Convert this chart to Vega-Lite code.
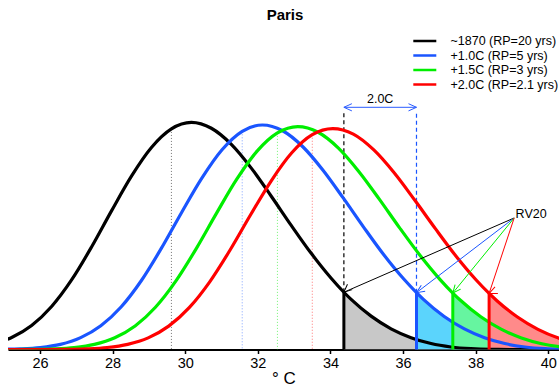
{
  "$schema": "https://vega.github.io/schema/vega-lite/v6.json",
  "width": 551,
  "height": 317,
  "autosize": {"type": "none"},
  "padding": {"left": 8, "top": 32.5, "right": 0, "bottom": 37.5},
  "background": "white",
  "title": {"text": "Paris", "fontSize": 15, "fontWeight": "bold", "font": "Liberation Sans", "anchor": "middle", "offset": 10, "color": "black", "dx": 1.5},
  "config": {"view": {"stroke": null}, "font": "Liberation Sans"},
  "datasets": {
    "curves": [
      {"s": "~1870 (RP=20 yrs)", "x": 24.67, "y": 0.0040},
      {"s": "~1870 (RP=20 yrs)", "x": 25.22, "y": 0.0091},
      {"s": "~1870 (RP=20 yrs)", "x": 25.77, "y": 0.0182},
      {"s": "~1870 (RP=20 yrs)", "x": 26.32, "y": 0.0326},
      {"s": "~1870 (RP=20 yrs)", "x": 26.87, "y": 0.0527},
      {"s": "~1870 (RP=20 yrs)", "x": 27.42, "y": 0.0777},
      {"s": "~1870 (RP=20 yrs)", "x": 27.97, "y": 0.1051},
      {"s": "~1870 (RP=20 yrs)", "x": 28.52, "y": 0.1314},
      {"s": "~1870 (RP=20 yrs)", "x": 29.07, "y": 0.1531},
      {"s": "~1870 (RP=20 yrs)", "x": 29.62, "y": 0.1672},
      {"s": "~1870 (RP=20 yrs)", "x": 30.17, "y": 0.1721},
      {"s": "~1870 (RP=20 yrs)", "x": 30.72, "y": 0.1677},
      {"s": "~1870 (RP=20 yrs)", "x": 31.27, "y": 0.1555},
      {"s": "~1870 (RP=20 yrs)", "x": 31.82, "y": 0.1375},
      {"s": "~1870 (RP=20 yrs)", "x": 32.37, "y": 0.1162},
      {"s": "~1870 (RP=20 yrs)", "x": 32.92, "y": 0.0941},
      {"s": "~1870 (RP=20 yrs)", "x": 33.47, "y": 0.0729},
      {"s": "~1870 (RP=20 yrs)", "x": 34.02, "y": 0.0540},
      {"s": "~1870 (RP=20 yrs)", "x": 34.37, "y": 0.0434},
      {"s": "~1870 (RP=20 yrs)", "x": 34.57, "y": 0.0380},
      {"s": "~1870 (RP=20 yrs)", "x": 35.12, "y": 0.0253},
      {"s": "~1870 (RP=20 yrs)", "x": 35.67, "y": 0.0157},
      {"s": "~1870 (RP=20 yrs)", "x": 36.22, "y": 0.0090},
      {"s": "~1870 (RP=20 yrs)", "x": 36.77, "y": 0.0045},
      {"s": "~1870 (RP=20 yrs)", "x": 37.32, "y": 0.0019},
      {"s": "~1870 (RP=20 yrs)", "x": 37.87, "y": 0.0006},
      {"s": "~1870 (RP=20 yrs)", "x": 38.42, "y": 0.0001},
      {"s": "~1870 (RP=20 yrs)", "x": 38.97, "y": 0.0},
      {"s": "~1870 (RP=20 yrs)", "x": 40.5, "y": 0.0},
      {"s": "+1.0C (RP=5 yrs)", "x": 24.895, "y": 0.0001},
      {"s": "+1.0C (RP=5 yrs)", "x": 25.451, "y": 0.0005},
      {"s": "+1.0C (RP=5 yrs)", "x": 26.008, "y": 0.0015},
      {"s": "+1.0C (RP=5 yrs)", "x": 26.564, "y": 0.0039},
      {"s": "+1.0C (RP=5 yrs)", "x": 27.12, "y": 0.0090},
      {"s": "+1.0C (RP=5 yrs)", "x": 27.676, "y": 0.0180},
      {"s": "+1.0C (RP=5 yrs)", "x": 28.233, "y": 0.0322},
      {"s": "+1.0C (RP=5 yrs)", "x": 28.789, "y": 0.0521},
      {"s": "+1.0C (RP=5 yrs)", "x": 29.345, "y": 0.0768},
      {"s": "+1.0C (RP=5 yrs)", "x": 29.901, "y": 0.1039},
      {"s": "+1.0C (RP=5 yrs)", "x": 30.458, "y": 0.1299},
      {"s": "+1.0C (RP=5 yrs)", "x": 31.014, "y": 0.1514},
      {"s": "+1.0C (RP=5 yrs)", "x": 31.57, "y": 0.1654},
      {"s": "+1.0C (RP=5 yrs)", "x": 32.126, "y": 0.1702},
      {"s": "+1.0C (RP=5 yrs)", "x": 32.683, "y": 0.1658},
      {"s": "+1.0C (RP=5 yrs)", "x": 33.239, "y": 0.1537},
      {"s": "+1.0C (RP=5 yrs)", "x": 33.795, "y": 0.1359},
      {"s": "+1.0C (RP=5 yrs)", "x": 34.351, "y": 0.1149},
      {"s": "+1.0C (RP=5 yrs)", "x": 34.908, "y": 0.0930},
      {"s": "+1.0C (RP=5 yrs)", "x": 35.464, "y": 0.0720},
      {"s": "+1.0C (RP=5 yrs)", "x": 36.02, "y": 0.0534},
      {"s": "+1.0C (RP=5 yrs)", "x": 36.37, "y": 0.0431},
      {"s": "+1.0C (RP=5 yrs)", "x": 36.576, "y": 0.0376},
      {"s": "+1.0C (RP=5 yrs)", "x": 37.133, "y": 0.0250},
      {"s": "+1.0C (RP=5 yrs)", "x": 37.689, "y": 0.0156},
      {"s": "+1.0C (RP=5 yrs)", "x": 38.245, "y": 0.0089},
      {"s": "+1.0C (RP=5 yrs)", "x": 38.801, "y": 0.0045},
      {"s": "+1.0C (RP=5 yrs)", "x": 39.358, "y": 0.0019},
      {"s": "+1.0C (RP=5 yrs)", "x": 39.914, "y": 0.0006},
      {"s": "+1.0C (RP=5 yrs)", "x": 40.47, "y": 0.0001},
      {"s": "+1.5C (RP=3 yrs)", "x": 24.70, "y": 0.0},
      {"s": "+1.5C (RP=3 yrs)", "x": 25.26, "y": 0.0},
      {"s": "+1.5C (RP=3 yrs)", "x": 25.82, "y": 0.0001},
      {"s": "+1.5C (RP=3 yrs)", "x": 26.38, "y": 0.0005},
      {"s": "+1.5C (RP=3 yrs)", "x": 26.94, "y": 0.0015},
      {"s": "+1.5C (RP=3 yrs)", "x": 27.50, "y": 0.0039},
      {"s": "+1.5C (RP=3 yrs)", "x": 28.06, "y": 0.0089},
      {"s": "+1.5C (RP=3 yrs)", "x": 28.62, "y": 0.0178},
      {"s": "+1.5C (RP=3 yrs)", "x": 29.18, "y": 0.0320},
      {"s": "+1.5C (RP=3 yrs)", "x": 29.74, "y": 0.0518},
      {"s": "+1.5C (RP=3 yrs)", "x": 30.30, "y": 0.0763},
      {"s": "+1.5C (RP=3 yrs)", "x": 30.86, "y": 0.1032},
      {"s": "+1.5C (RP=3 yrs)", "x": 31.42, "y": 0.1291},
      {"s": "+1.5C (RP=3 yrs)", "x": 31.98, "y": 0.1504},
      {"s": "+1.5C (RP=3 yrs)", "x": 32.54, "y": 0.1642},
      {"s": "+1.5C (RP=3 yrs)", "x": 33.10, "y": 0.1690},
      {"s": "+1.5C (RP=3 yrs)", "x": 33.66, "y": 0.1647},
      {"s": "+1.5C (RP=3 yrs)", "x": 34.22, "y": 0.1527},
      {"s": "+1.5C (RP=3 yrs)", "x": 34.78, "y": 0.1350},
      {"s": "+1.5C (RP=3 yrs)", "x": 35.34, "y": 0.1142},
      {"s": "+1.5C (RP=3 yrs)", "x": 35.90, "y": 0.0924},
      {"s": "+1.5C (RP=3 yrs)", "x": 36.46, "y": 0.0716},
      {"s": "+1.5C (RP=3 yrs)", "x": 37.02, "y": 0.0530},
      {"s": "+1.5C (RP=3 yrs)", "x": 37.37, "y": 0.0428},
      {"s": "+1.5C (RP=3 yrs)", "x": 37.58, "y": 0.0373},
      {"s": "+1.5C (RP=3 yrs)", "x": 38.14, "y": 0.0248},
      {"s": "+1.5C (RP=3 yrs)", "x": 38.70, "y": 0.0154},
      {"s": "+1.5C (RP=3 yrs)", "x": 39.26, "y": 0.0088},
      {"s": "+1.5C (RP=3 yrs)", "x": 39.82, "y": 0.0044},
      {"s": "+1.5C (RP=3 yrs)", "x": 40.38, "y": 0.0019},
      {"s": "+1.5C (RP=3 yrs)", "x": 40.94, "y": 0.0006},
      {"s": "+2.0C (RP=2.1 yrs)", "x": 25.025, "y": 0.0},
      {"s": "+2.0C (RP=2.1 yrs)", "x": 25.59, "y": 0.0},
      {"s": "+2.0C (RP=2.1 yrs)", "x": 26.155, "y": 0.0},
      {"s": "+2.0C (RP=2.1 yrs)", "x": 26.72, "y": 0.0001},
      {"s": "+2.0C (RP=2.1 yrs)", "x": 27.285, "y": 0.0005},
      {"s": "+2.0C (RP=2.1 yrs)", "x": 27.85, "y": 0.0015},
      {"s": "+2.0C (RP=2.1 yrs)", "x": 28.415, "y": 0.0039},
      {"s": "+2.0C (RP=2.1 yrs)", "x": 28.98, "y": 0.0088},
      {"s": "+2.0C (RP=2.1 yrs)", "x": 29.545, "y": 0.0177},
      {"s": "+2.0C (RP=2.1 yrs)", "x": 30.11, "y": 0.0317},
      {"s": "+2.0C (RP=2.1 yrs)", "x": 30.675, "y": 0.0513},
      {"s": "+2.0C (RP=2.1 yrs)", "x": 31.24, "y": 0.0756},
      {"s": "+2.0C (RP=2.1 yrs)", "x": 31.805, "y": 0.1023},
      {"s": "+2.0C (RP=2.1 yrs)", "x": 32.37, "y": 0.1279},
      {"s": "+2.0C (RP=2.1 yrs)", "x": 32.935, "y": 0.1491},
      {"s": "+2.0C (RP=2.1 yrs)", "x": 33.50, "y": 0.1628},
      {"s": "+2.0C (RP=2.1 yrs)", "x": 34.065, "y": 0.1675},
      {"s": "+2.0C (RP=2.1 yrs)", "x": 34.63, "y": 0.1633},
      {"s": "+2.0C (RP=2.1 yrs)", "x": 35.195, "y": 0.1513},
      {"s": "+2.0C (RP=2.1 yrs)", "x": 35.76, "y": 0.1338},
      {"s": "+2.0C (RP=2.1 yrs)", "x": 36.325, "y": 0.1131},
      {"s": "+2.0C (RP=2.1 yrs)", "x": 36.89, "y": 0.0916},
      {"s": "+2.0C (RP=2.1 yrs)", "x": 37.455, "y": 0.0709},
      {"s": "+2.0C (RP=2.1 yrs)", "x": 38.02, "y": 0.0525},
      {"s": "+2.0C (RP=2.1 yrs)", "x": 38.37, "y": 0.0425},
      {"s": "+2.0C (RP=2.1 yrs)", "x": 38.585, "y": 0.0370},
      {"s": "+2.0C (RP=2.1 yrs)", "x": 39.15, "y": 0.0246},
      {"s": "+2.0C (RP=2.1 yrs)", "x": 39.715, "y": 0.0153},
      {"s": "+2.0C (RP=2.1 yrs)", "x": 40.28, "y": 0.0087},
      {"s": "+2.0C (RP=2.1 yrs)", "x": 40.845, "y": 0.0044}
    ],
    "params": [
      {"s": "~1870 (RP=20 yrs)", "mu": 29.62, "fmu": 0.1672, "rv": 34.37, "frv": 0.0434},
      {"s": "+1.0C (RP=5 yrs)", "mu": 31.57, "fmu": 0.1654, "rv": 36.37, "frv": 0.0431},
      {"s": "+1.5C (RP=3 yrs)", "mu": 32.54, "fmu": 0.1642, "rv": 37.37, "frv": 0.0428},
      {"s": "+2.0C (RP=2.1 yrs)", "mu": 33.50, "fmu": 0.1628, "rv": 38.37, "frv": 0.0425}
    ],
    "span": [
      {"end": "L", "x": 34.37},
      {"end": "R", "x": 36.37}
    ]
  },
  "resolve": {"scale": {"angle": "independent"}},
  "layer": [
    {
      "data": {"name": "curves"},
      "transform": [
        {"filter": "(datum.s === '~1870 (RP=20 yrs)' && datum.x >= 34.37) || (datum.s === '+1.0C (RP=5 yrs)' && datum.x >= 36.37) || (datum.s === '+1.5C (RP=3 yrs)' && datum.x >= 37.37) || (datum.s === '+2.0C (RP=2.1 yrs)' && datum.x >= 38.37)"}
      ],
      "mark": {"type": "area", "interpolate": "monotone", "clip": true},
      "encoding": {
        "x": {"field": "x", "type": "quantitative", "scale": {"domain": [25.119, 40.295], "nice": false, "zero": false},
          "axis": {"title": "° C", "values": [26, 28, 30, 32, 34, 36, 38, 40], "grid": false, "domainColor": "black", "domainWidth": 2, "domainCap": "butt", "tickColor": "black", "tickWidth": 1.5, "tickSize": 4, "labelFontSize": 14.5, "labelFont": "Liberation Sans", "labelColor": "black", "labelPadding": 3, "labelFlush": false, "labelOverlap": false, "titleFontSize": 17, "titleFont": "Liberation Sans", "titleFontWeight": "normal", "titleColor": "black", "titleBaseline": "alphabetic", "titleY": 33.5}},
        "y": {"field": "y", "type": "quantitative", "stack": null, "scale": {"domain": [0, 0.2403], "nice": false, "zero": true}, "axis": null},
        "fill": {"field": "s", "type": "nominal", "scale": {"domain": ["+2.0C (RP=2.1 yrs)", "+1.5C (RP=3 yrs)", "+1.0C (RP=5 yrs)", "~1870 (RP=20 yrs)"], "range": ["#ff8a8a", "#66f5a0", "#5bd4fc", "#c8c8c8"]}, "legend": null}
      }
    },
    {
      "data": {"name": "params"},
      "mark": {"type": "rule", "strokeDash": [1, 2], "strokeWidth": 1, "opacity": 0.55},
      "encoding": {
        "x": {"field": "mu", "type": "quantitative"},
        "y": {"field": "fmu", "type": "quantitative", "axis": null},
        "y2": {"datum": 0},
        "stroke": {"field": "s", "type": "nominal", "scale": {"domain": ["+1.0C (RP=5 yrs)", "~1870 (RP=20 yrs)", "+1.5C (RP=3 yrs)", "+2.0C (RP=2.1 yrs)"], "range": ["#1a55ff", "#000000", "#00ee00", "#ff0000"]}, "legend": null}
      }
    },
    {
      "data": {"name": "params"},
      "transform": [{"filter": {"field": "s", "oneOf": ["~1870 (RP=20 yrs)", "+1.0C (RP=5 yrs)"]}}],
      "mark": {"type": "rule", "strokeDash": [4, 3], "strokeWidth": 1.2},
      "encoding": {
        "x": {"field": "rv", "type": "quantitative"},
        "y": {"field": "frv", "type": "quantitative", "axis": null},
        "y2": {"datum": 0.180},
        "stroke": {"field": "s", "type": "nominal", "legend": null}
      }
    },
    {
      "data": {"name": "curves"},
      "mark": {"type": "line", "interpolate": "monotone", "strokeWidth": 3.2, "clip": true},
      "encoding": {
        "x": {"field": "x", "type": "quantitative"},
        "y": {"field": "y", "type": "quantitative", "axis": null},
        "color": {"field": "s", "type": "nominal", "scale": {"domain": ["~1870 (RP=20 yrs)", "+1.0C (RP=5 yrs)", "+1.5C (RP=3 yrs)", "+2.0C (RP=2.1 yrs)"], "range": ["#000000", "#1a55ff", "#00ee00", "#ff0000"]},
          "legend": {"title": null, "orient": "none", "legendX": 410.3, "legendY": 2, "symbolType": "M-2.3,0H2.3", "symbolSize": 100, "symbolStrokeWidth": 2.5, "labelFontSize": 12.5, "labelFont": "Liberation Sans", "labelColor": "black", "labelOffset": 19.2, "rowPadding": 1.5, "padding": 0}}
      }
    },
    {
      "data": {"name": "params"},
      "mark": {"type": "rule", "strokeWidth": 3},
      "encoding": {
        "x": {"field": "rv", "type": "quantitative"},
        "y": {"field": "frv", "type": "quantitative", "axis": null},
        "y2": {"datum": 0},
        "stroke": {"field": "s", "type": "nominal", "legend": null}
      }
    },
    {
      "data": {"name": "params"},
      "mark": {"type": "rule", "strokeWidth": 1},
      "encoding": {
        "x": {"field": "rv", "type": "quantitative"},
        "y": {"field": "frv", "type": "quantitative", "axis": null},
        "x2": {"datum": 39.06},
        "y2": {"datum": 0.0997},
        "stroke": {"field": "s", "type": "nominal", "legend": null}
      }
    },
    {
      "data": {"name": "params"},
      "mark": {"type": "point", "shape": "M-1,-0.45L0,0L-1,0.45", "filled": false, "size": 256, "strokeWidth": 1, "opacity": 1},
      "encoding": {
        "x": {"field": "rv", "type": "quantitative"},
        "y": {"field": "frv", "type": "quantitative", "axis": null},
        "stroke": {"field": "s", "type": "nominal", "legend": null},
        "angle": {"field": "s", "type": "nominal", "scale": {"domain": ["+1.5C (RP=3 yrs)", "~1870 (RP=20 yrs)", "+1.0C (RP=5 yrs)", "+2.0C (RP=2.1 yrs)"], "range": [129.3, 156.4, 142.6, 108.4]}, "legend": null}
      }
    },
    {
      "data": {"name": "span"},
      "mark": {"type": "line", "strokeWidth": 1, "color": "#2a5cff"},
      "encoding": {
        "x": {"field": "x", "type": "quantitative"},
        "y": {"datum": 0.1836, "axis": null}
      }
    },
    {
      "data": {"name": "span"},
      "mark": {"type": "point", "shape": "M-1,-0.45L0,0L-1,0.45", "filled": false, "size": 256, "strokeWidth": 1, "opacity": 1, "color": "#2a5cff"},
      "encoding": {
        "x": {"field": "x", "type": "quantitative"},
        "y": {"datum": 0.1836, "axis": null},
        "angle": {"field": "end", "type": "nominal", "scale": {"domain": ["L", "R"], "range": [180, 0]}, "legend": null}
      }
    },
    {
      "data": {"values": [{}]},
      "mark": {"type": "text", "text": "2.0C", "fontSize": 12.5, "font": "Liberation Sans", "color": "black", "align": "center", "baseline": "middle"},
      "encoding": {
        "x": {"datum": 35.37},
        "y": {"datum": 0.1899, "axis": null}
      }
    },
    {
      "data": {"values": [{}]},
      "mark": {"type": "text", "text": "RV20", "fontSize": 12.5, "font": "Liberation Sans", "color": "black", "align": "left", "baseline": "middle"},
      "encoding": {
        "x": {"datum": 39.1},
        "y": {"datum": 0.1025, "axis": null}
      }
    }
  ]
}
